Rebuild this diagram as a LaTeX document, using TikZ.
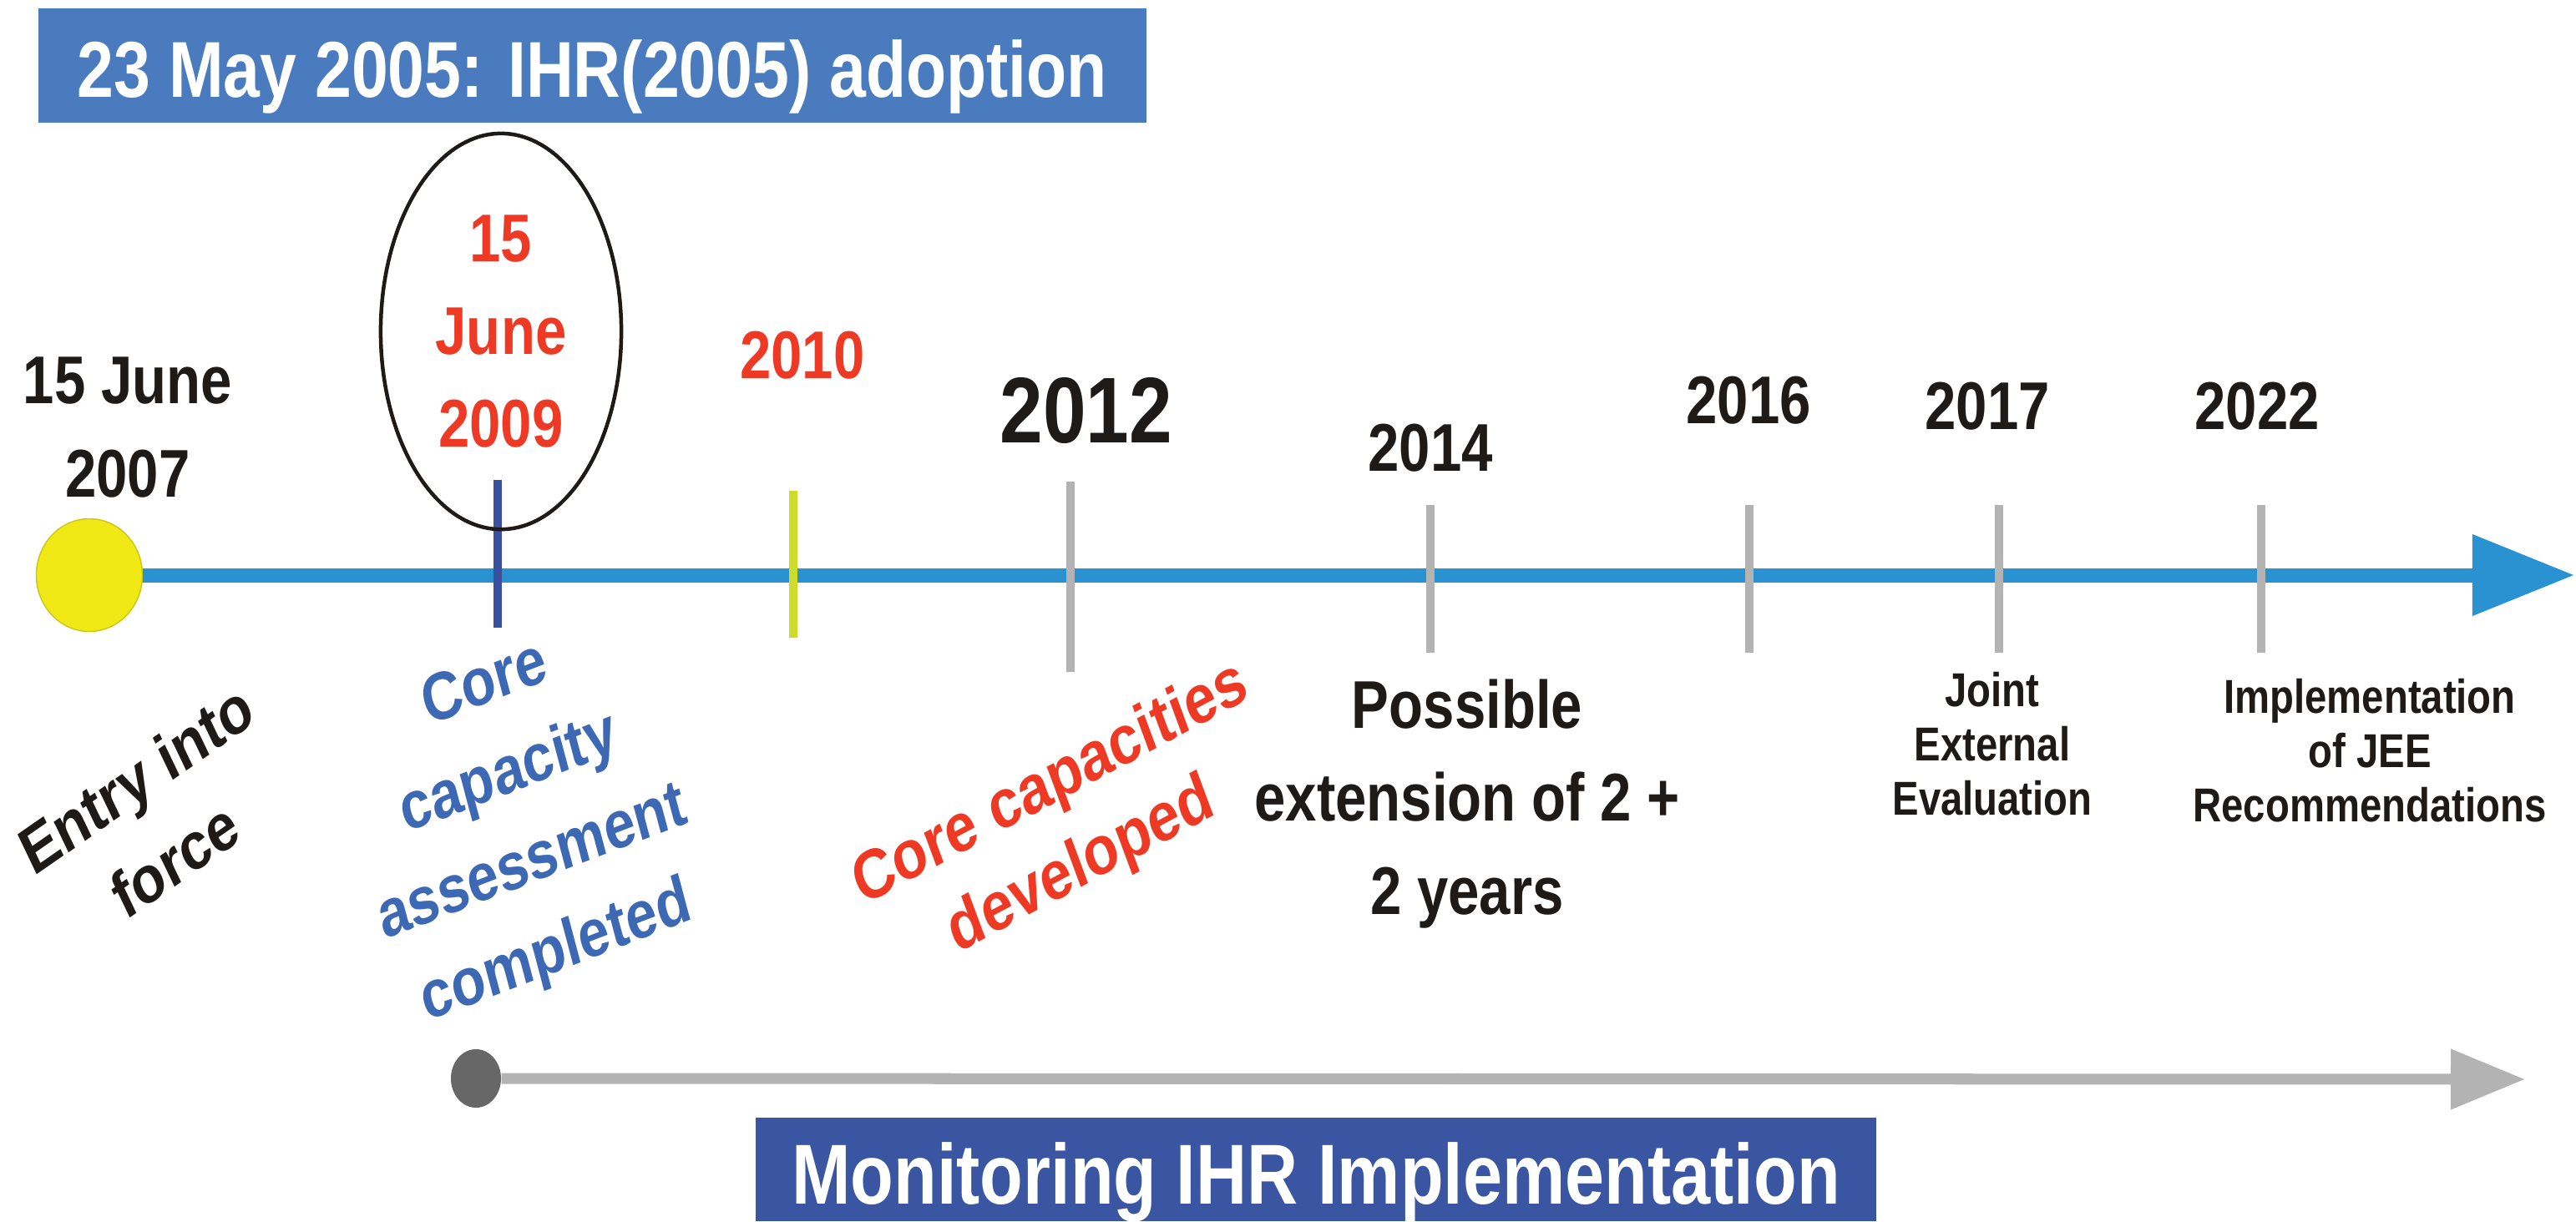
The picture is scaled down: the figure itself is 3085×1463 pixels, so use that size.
\documentclass[tikz,border=0pt]{standalone}
\usepackage{fontspec}
\setmainfont[FakeStretch=0.83]{Liberation Sans}
\newfontfamily\slopefont{Liberation Sans}
\usetikzlibrary{arrows.meta,shapes.geometric}
\definecolor{adoptblue}{RGB}{74,123,191}
\definecolor{monblue}{RGB}{58,86,163}
\definecolor{lineblue}{RGB}{42,146,208}
\definecolor{coreblue}{RGB}{61,104,179}
\definecolor{ihrred}{RGB}{238,58,36}
\definecolor{ink}{RGB}{29,26,24}
\definecolor{tickgray}{RGB}{179,179,179}
\definecolor{tickblue}{RGB}{58,79,160}
\definecolor{tickgreen}{RGB}{205,220,41}
\definecolor{sunyellow}{RGB}{240,233,22}
\definecolor{dotgray}{RGB}{103,103,103}
\tikzset{
	tline/.style={draw=lineblue,line width=0.17cm,-{Triangle[length=1.21cm,width=0.98cm,line width=0pt]}},
	mline/.style={draw=tickgray,line width=0.13cm,-{Triangle[length=0.88cm,width=0.73cm,line width=0pt]}},
	yearfont/.style={font=\bfseries\fontsize{23}{31.6}\selectfont},
	smallfont/.style={font=\bfseries\fontsize{16.2}{18.5}\selectfont},
	slopefont/.style={font=\slopefont\bfseries\fontsize{#1}{31.9}\selectfont}
}
\begin{document}
\begin{tikzpicture}[x=0.01cm,y=-0.01cm]
	\useasboundingbox (0,0) rectangle (3085,1463);
	
	\begin{scope}[every node/.style={inner sep=0pt,text=white,text depth=0pt}]
		\node[fill=adoptblue,minimum width=13.27cm,minimum height=1.37cm,text height=0.75cm,font=\bfseries\fontsize{27}{30}\selectfont] (adopt) at (709.5,78.5) {23 May 2005: IHR(2005) adoption};
		\node[fill=monblue,minimum width=13.42cm,minimum height=1.24cm,text height=0.82cm,font=\bfseries\fontsize{29}{33}\selectfont] (monitor) at (1576,1401) {Monitoring IHR Implementation};
	\end{scope}
	
	\node[ellipse,fill=sunyellow,draw=sunyellow!85!black,minimum width=1.27cm,minimum height=1.35cm] (entry) at (107,689) {};
	\coordinate (tlend) at (3082,689);
	\path (entry) edge[tline] (tlend);
	
	\foreach \x/\a/\b/\c in {596/575/752/tickblue,950/588/764/tickgreen,1282/577/805/tickgray,1713/605/782/tickgray,2095/605/782/tickgray,2394/605/782/tickgray,2708/605/782/tickgray}
		\draw[\c,line width=0.1cm] (\x,\a) -- (\x,\b);
	
	\node[ellipse,draw=ink,line width=0.045cm,minimum width=2.88cm,minimum height=4.74cm,inner sep=0pt,align=center,text=ihrred,yearfont] (d2009) at (600,397) {15\\June\\2009};
	
	\begin{scope}[every node/.style={inner sep=0pt,align=center,text=ink,yearfont}]
		\node (d2007) at (153,512) {15 June\\2007};
		\node[text=ihrred] (d2010) at (961,426) {2010};
		\node[font=\bfseries\fontsize{31.8}{36}\selectfont] (d2012) at (1301,492) {2012};
		\node (d2014) at (1713,537) {2014};
		\node (d2016) at (2094,480) {2016};
		\node (d2017) at (2380,487) {2017};
		\node (d2022) at (2703,487) {2022};
		\node (ext) at (1757,963) {Possible\\extension of 2 +\\2 years};
		\node[smallfont] (jee) at (2386,891) {Joint\\External\\Evaluation};
		\node[smallfont] (recs) at (2838,899) {Implementation\\of JEE\\Recommendations};
	\end{scope}
	
	\begin{scope}[every node/.style={inner sep=0pt,align=center}]
		\node[xscale=0.83,rotate=30,text=ink,slopefont=22.8] (force) at (186,981) {Entry into\\force};
		\node[xscale=0.83,rotate=17.7,text=coreblue,slopefont=23] (assess) at (624,983) {Core\\capacity\\assessment\\completed};
		\node[xscale=0.83,rotate=24,text=ihrred,font=\slopefont\bfseries\fontsize{23.6}{30.6}\selectfont] (core) at (1277,990) {Core capacities\\developed};
	\end{scope}
	
	\node[ellipse,fill=dotgray,minimum width=0.6cm,minimum height=0.7cm] (gdot) at (570,1292) {};
	\coordinate (mend) at (3023,1293);
	\path (gdot) edge[mline] (mend);
\end{tikzpicture}
\end{document}
